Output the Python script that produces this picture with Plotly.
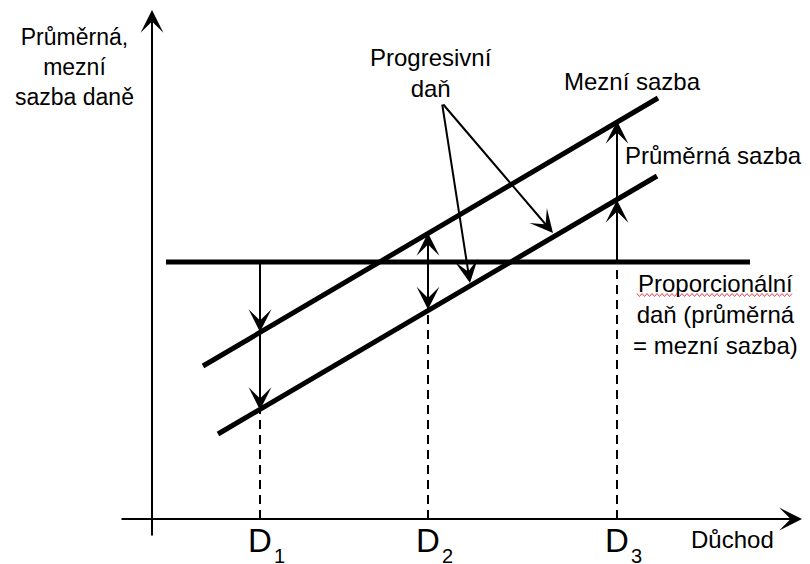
import plotly.graph_objects as go

# ---- data (income on x, tax rate on y, arbitrary units) ----
income_levels = [108, 276, 465]                 # D1, D2, D3
income_names = ["D", "D", "D"]
income_subscripts = ["1", "2", "3"]

proportional_income = [14, 598]
proportional_rate = [257, 257]

marginal_income = [51, 506]
marginal_rate = [153, 421]

average_income = [66, 505]
average_rate = [85, 343]

marginal_at_D = [187, 286, 398]
average_at_D = [109, 208, 319]

progressive_apex = (290, 416)
progressive_targets_income = [401, 318]
progressive_targets_rate = [286, 236]

axis_x_span = [-32, 650]
axis_y_span = [-18, 509]

FONT = "Liberation Sans, Arial, sans-serif"
BLACK = "#000000"

fig = go.Figure()

# main lines
for xs, ys in [(proportional_income, proportional_rate),
               (marginal_income, marginal_rate),
               (average_income, average_rate)]:
    fig.add_trace(go.Scatter(x=xs, y=ys, mode="lines",
                             line=dict(color=BLACK, width=5),
                             hoverinfo="skip", showlegend=False))

# dashed drop lines to the income axis
dash_tops = [average_at_D[0], average_at_D[1], proportional_rate[0]]
for d, top in zip(income_levels, dash_tops):
    fig.add_trace(go.Scatter(x=[d, d], y=[0, top], mode="lines",
                             line=dict(color=BLACK, width=2, dash="9px,6px"),
                             hoverinfo="skip", showlegend=False))

annotations = []

def arrow(x0, y0, x1, y1, both=False, width=2, size=1.9):
    annotations.append(dict(
        x=x1, y=y1, ax=x0, ay=y0, xref="x", yref="y", axref="x", ayref="y",
        text="", showarrow=True, arrowhead=3, arrowsize=size,
        arrowwidth=width, arrowcolor=BLACK, standoff=0, startstandoff=0,
        arrowside="end+start" if both else "end", startarrowhead=3,
        startarrowsize=size))

# axes
arrow(axis_x_span[0], 0, axis_x_span[1], 0)
arrow(0, axis_y_span[0], 0, axis_y_span[1])

# D1: proportional -> marginal -> average
arrow(income_levels[0], proportional_rate[0], income_levels[0], marginal_at_D[0])
arrow(income_levels[0], marginal_at_D[0], income_levels[0], average_at_D[0])
# D2: double arrow between marginal and average
arrow(income_levels[1], average_at_D[1], income_levels[1], marginal_at_D[1], both=True)
# D3: proportional -> average -> marginal
arrow(income_levels[2], proportional_rate[0], income_levels[2], average_at_D[2])
arrow(income_levels[2], average_at_D[2], income_levels[2], marginal_at_D[2])

# Progresivní daň pointers
for tx, ty in zip(progressive_targets_income, progressive_targets_rate):
    arrow(progressive_apex[0], progressive_apex[1], tx, ty)

def label(x, y, text, size=24, xanchor="center", yanchor="middle", align="center",
          xshift=0, yshift=0):
    annotations.append(dict(x=x, y=y, xref="x", yref="y", text=text,
                            showarrow=False, xanchor=xanchor, yanchor=yanchor,
                            align=align, xshift=xshift, yshift=yshift,
                            font=dict(family=FONT, size=size, color=BLACK)))

label(-78, 452, "Průměrná,<br>mezní<br>sazba daně", size=23)
label(279, 446, "Progresivní<br>daň")
label(410, 438, "Mezní sazba", xanchor="left")
label(471, 364, "Průměrná sazba", xanchor="left")
label(563, 205, "Proporcionální<br>daň (průměrná<br>= mezní sazba)")
label(537, -20, "Důchod", xanchor="left")
for d, name, sub in zip(income_levels, income_names, income_subscripts):
    label(d, 0, name, size=33, yanchor="top", yshift=-1)
    label(d, 0, sub, size=20, xanchor="left", yanchor="top", xshift=12, yshift=-24)

# spell-check style wavy underline under "Proporcionální"
wave_start, wave_end, wave_level = 485, 641, 224
pts = []
x = wave_start
up = True
while x <= wave_end:
    pts.append(f"{x},{wave_level + (1.5 if up else -1.5)}")
    up = not up
    x += 2.5
wave_path = "M" + " L".join(pts)

fig.update_layout(
    width=802, height=556,                       # page body has an 8px margin
    margin=dict(l=0, r=0, t=0, b=0),
    paper_bgcolor="white", plot_bgcolor="white",
    xaxis=dict(range=[-144, 658], visible=False, fixedrange=True),
    yaxis=dict(range=[-45, 511], visible=False, fixedrange=True),
    annotations=annotations,
    shapes=[dict(type="path", path=wave_path, xref="x", yref="y",
                 line=dict(color="#e8414b", width=1))],
    showlegend=False,
)

fig.write_html("out.html")
